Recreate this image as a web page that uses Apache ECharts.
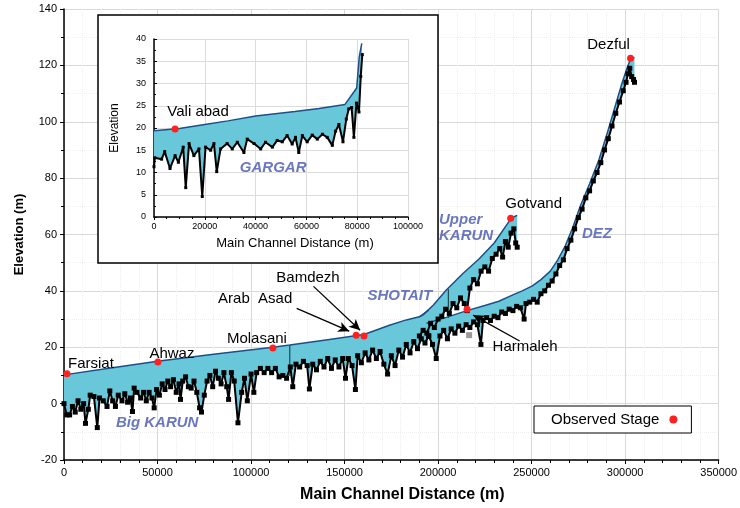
<!DOCTYPE html>
<html>
<head>
<meta charset="utf-8">
<title>Karun profile</title>
<script src="https://cdn.jsdelivr.net/npm/echarts@6/dist/echarts.min.js"></script>
<style>
  html, body { margin: 0; padding: 0; background: #fff; }
  #chart { width: 740px; height: 508px; }
</style>
</head>
<body>
<div id="chart"></div>
<script>
// water surface profiles [distance (m), elevation (m)]
const bigKarunSurface = [[0,10.2],[25000,12.6],[50000,15],[80000,17.5],[111700,20],[120700,20.8],[140000,22.6],[160400,24.5],[174000,27.8],[183000,29.7],[190000,30.8],[195000,33.2]];
const shotaitSurface = [[190000,30.8],[192000,31.5],[197500,35],[204400,40.3],[213000,46],[222000,51.4],[230000,57],[237700,64.4],[240300,66.2],[242300,66.8]];
const dezSurface = [[193800,28.5],[204400,30.6],[215000,32.9],[225000,34.8],[232500,36.3],[240000,38.6],[245000,40],[250400,41.8],[255000,44],[260000,47],[264000,51],[268000,56],[272000,62.5],[276000,70],[281000,78],[286000,86.5],[290000,95],[294000,104],[298000,113],[301000,119],[303000,122.5],[305000,122.8]];
const gargarSurface = [[0,19.4],[10000,19.9],[20000,20.8],[29100,21.6],[40000,22.7],[55500,23.7],[65000,24.4],[75200,25.3],[79800,29],[80800,36],[81800,39]];

// channel bed profiles
const bigKarunBed = [[0,0],[1500,-4],[3000,-4],[4500,-1],[6000,-3],[7500,1],[9000,-2],[10500,0],[11500,-7],[13000,-2],[14000,3],[16000,2.5],[17800,-8.5],[19000,2],[21000,1],[23000,-1],[24500,4.5],[26000,1],[27500,-1],[29000,3],[31000,1],[32500,3.5],[34000,0.5],[35500,2],[36600,-2.8],[37500,5.5],[39000,4],[41000,2],[42500,4],[44000,1],[45500,4],[47000,2],[48200,-1.5],[49500,5],[51000,3],[52500,7],[54000,5],[55500,8],[57000,6],[58500,8.5],[60000,4],[61500,7],[62300,1.5],[63500,8],[65000,9.5],[66500,6],[68000,5.5],[69500,8],[71000,4],[72500,-1.5],[73500,-3],[75000,3],[76500,8],[78000,10],[79500,6],[81000,11.5],[82500,9],[84000,7],[85500,11],[87000,6],[88000,1.5],[89500,11],[91000,8],[93000,-6.8],[95000,4],[96500,9],[98000,1],[100000,10.5],[101500,4],[103000,11],[105000,12.5],[107000,11],[109000,12.5],[111000,11],[113000,12.5],[115000,9.5],[117000,10],[119000,9],[121000,13],[122300,6],[124000,14],[126000,13],[128000,15],[130000,13.5],[131200,5.2],[133000,14],[135000,12],[137000,15],[139000,13],[141000,16],[143000,12.5],[145000,15.5],[147000,13],[149000,16],[150500,9],[152000,16],[154000,13.5],[155800,5],[157000,17],[159000,14.5],[161000,18],[163000,15.5],[165000,19],[167000,16],[169000,18.5],[171000,14],[173000,10.5],[175000,17],[177000,13.5],[179000,19],[181000,16.5],[183000,21],[185000,18],[187000,22],[189000,19.5],[191000,23],[193000,21.5],[195000,24]];
const shotaitBed = [[190000,24],[192000,26],[194000,25],[196000,28.5],[198000,27],[200000,30],[202000,31],[204000,33.5],[206000,32],[208000,35.5],[210000,34],[212000,37.5],[214000,35.5],[215500,33],[217000,41],[219000,44],[221000,42.5],[223000,47],[225000,48.5],[227000,47],[229000,51.5],[231000,53],[233000,55],[234500,52],[236000,57.5],[237500,55.5],[239000,60.5],[240500,62],[241500,57],[242300,55.5]];
const dezBed = [[195000,24],[197000,21],[199000,16],[201000,24],[203000,26],[205000,23],[207000,26.5],[209000,25],[211000,27.5],[213000,26],[215000,28],[217000,27],[219000,29],[221000,28],[222900,21],[224000,29.5],[226000,30.5],[228000,29.5],[230000,31],[232000,30.5],[234000,32.5],[236000,32],[238000,33.5],[240000,33],[242000,34.5],[244000,34],[246000,30],[247000,35.5],[249000,36],[251000,37],[253000,36],[255000,39],[257000,40],[259000,42],[261000,43.5],[263000,46],[265000,49],[267000,51],[269000,55],[271000,58],[273000,62],[275000,66],[277000,69],[279000,73],[281000,75.5],[283000,79],[285000,82],[287000,85.5],[289000,90],[291000,94],[293000,98.5],[295000,103],[297000,107],[299000,111],[300500,114],[301500,117],[302500,119],[303500,116],[304500,115],[305000,114]];
const gargarBed = [[0,11.3],[300,13.3],[3000,13],[4200,14.7],[6300,10.9],[8300,13.8],[9600,12.3],[11500,15.7],[12500,6.6],[13800,16.5],[15700,13.8],[17700,15.3],[19000,4.6],[20300,15.7],[22300,15],[23600,16.5],[24700,10.2],[26200,15.3],[28800,16.5],[30800,15.3],[32800,16.8],[35400,14.5],[36700,17.5],[39400,16.5],[42000,15.3],[43900,16.8],[46600,15.7],[48500,17.2],[50500,16.9],[52400,18.3],[54400,16.4],[55700,17.9],[57000,14.5],[58400,18.3],[60300,16.9],[62300,18.4],[64300,17.5],[66300,18.6],[68200,17.9],[70200,16.1],[71500,19.3],[72800,20.8],[74400,16.9],[75700,22],[76700,24.3],[77800,24.6],[78700,17.9],[79700,25.6],[80700,23.6],[81400,31.6],[82000,36.5]];

// junction cross sections
const junctionLines = [[[120700,9.8],[120700,20.8]], [[205500,30.4],[205500,40.6]]];

// observed stages
const stationNames = ['Farsiat','Ahwaz','Molasani','Arab  Asad','Bamdezh','Harmaleh','Gotvand','Dezful'];
const stationX = [1600, 50200, 111700, 156200, 160400, 215500, 238800, 302900];
const stationY = [10.6, 14.8, 19.7, 24.3, 24, 33.5, 65.8, 122.5];
const insetStationNames = ['Vali abad'];
const insetStationX = [8300];
const insetStationY = [19.8];
const grayPoint = [[216600, 24.3]];

// river reach names
const riverNames = ['Big KARUN','SHOTAIT','Upper\nKARUN','DEZ'];
const riverX = [49800, 179500, 200500, 284900];
const riverY = [-6.7, 38.4, 62.4, 60.3];
const insetRiverNames = ['GARGAR'];
const insetRiverX = [46900];
const insetRiverY = [11];

// arrows from labels to stations
const arrows = [
  [[124400,33.8],[152500,25.7]],
  [[133400,41.6],[158300,26]],
  [[243600,22.2],[218700,31.4]]
];

const mainXTicks = {min: 0, max: 350000, interval: 50000};
const mainYTicks = {min: -20, max: 140, interval: 20};
const insetXTicks = {min: 0, max: 100000, interval: 20000};
const insetYTicks = {min: 0, max: 40, interval: 5};

// label placement (px offsets from the dot)
const labelPos = {
  'Farsiat': [1, -10, 'left'], 'Ahwaz': [14, -8, 'center'], 'Molasani': [-16, -9, 'center'],
  'Arab  Asad': [-101, -36, 'center'], 'Bamdezh': [-56, -58, 'center'], 'Harmaleh': [58, 38, 'center'],
  'Gotvand': [23, -14, 'center'], 'Dezful': [-22, -13, 'center'], 'Vali abad': [23, -17, 'center']
};

const FILL = '#68c8da';
const SURF = '#1d4f86';
const RIVER = '#4455b0';
const plain = v => String(v); // no thousands separators

function reach(surface, bed, g, z) {
  const pts = surface.concat(bed.slice().reverse());
  return [
    { // filled water between bed and surface
      type: 'custom', xAxisIndex: g, yAxisIndex: g, z: z, silent: true, clip: true,
      data: [0],
      renderItem: function (params, api) {
        return { type: 'polygon', shape: { points: pts.map(p => api.coord(p)) }, style: { fill: FILL } };
      }
    },
    {
      type: 'line', xAxisIndex: g, yAxisIndex: g, z: z + 1, data: surface, symbol: 'none',
      lineStyle: { color: SURF, width: 1.5 }, silent: true
    },
    {
      type: 'line', xAxisIndex: g, yAxisIndex: g, z: z + 2, data: bed, showAllSymbol: true,
      symbol: 'rect', symbolSize: g === 0 ? 5 : 3,
      itemStyle: { color: '#000' }, lineStyle: { color: '#000', width: 2 }, silent: true
    }
  ];
}

function stationData(names, xs, ys) {
  return names.map((n, i) => ({
    name: n, value: [xs[i], ys[i]],
    label: { offset: [labelPos[n][0], labelPos[n][1]], align: labelPos[n][2] }
  }));
}

function riverData(names, xs, ys) {
  return names.map((n, i) => ({
    name: n, value: [xs[i], ys[i]],
    label: { align: n.indexOf('\n') > 0 ? 'left' : 'center' }
  }));
}

const stationLabel = {
  show: true, position: 'inside', formatter: '{b}', color: '#000', fontSize: 15,
  verticalAlign: 'middle'
};
const riverLabel = {
  show: true, position: 'inside', formatter: '{b}', color: RIVER, fontSize: 15,
  fontStyle: 'italic', fontWeight: 'bold', lineHeight: 16, verticalAlign: 'middle'
};

function axisOf(g, t, extra) {
  return Object.assign({
    gridIndex: g, type: 'value', min: t.min, max: t.max, interval: t.interval,
    nameLocation: 'middle',
    axisLine: { show: true, onZero: false, lineStyle: { color: '#000', width: 1.5 } },
    axisTick: { show: true, length: 4, lineStyle: { color: '#000' } },
    splitLine: { show: true, lineStyle: { color: '#d9d9d9' } },
    minorSplitLine: { show: true, lineStyle: { color: '#efefef', type: 'dotted' } }
  }, extra);
}

const series = []
  .concat(reach(bigKarunSurface, bigKarunBed, 0, 2))
  .concat(reach(shotaitSurface, shotaitBed, 0, 2))
  .concat(reach(dezSurface, dezBed, 0, 2))
  .concat(junctionLines.map(l => ({
    type: 'line', data: l, symbol: 'none', z: 3, silent: true,
    lineStyle: { color: '#1a4a50', width: 1.2 }
  })))
  .concat([
    {
      type: 'scatter', data: grayPoint, symbol: 'rect', symbolSize: 6, z: 5,
      itemStyle: { color: '#9a9a9a', opacity: 1 }, silent: true
    },
    {
      name: 'Observed Stage', type: 'scatter', z: 6, symbolSize: 7,
      itemStyle: { color: '#ff2020', opacity: 1 },
      data: stationData(stationNames, stationX, stationY),
      label: stationLabel,
      markLine: {
        silent: true, symbol: ['none', 'arrow'], symbolSize: [8, 11],
        lineStyle: { color: '#000', width: 1.3, type: 'solid' },
        label: { show: false },
        data: arrows.map(a => [{ coord: a[0] }, { coord: a[1] }])
      }
    },
    {
      type: 'scatter', z: 6, symbolSize: 0, silent: true,
      data: riverData(riverNames, riverX, riverY), label: riverLabel
    }
  ])
  // inset: Gargar branch
  .concat(reach(gargarSurface, gargarBed, 1, 5))
  .concat([
    {
      name: 'Observed Stage', type: 'scatter', xAxisIndex: 1, yAxisIndex: 1, z: 9, symbolSize: 7,
      itemStyle: { color: '#ff2020', opacity: 1 },
      data: stationData(insetStationNames, insetStationX, insetStationY),
      label: stationLabel
    },
    {
      type: 'scatter', xAxisIndex: 1, yAxisIndex: 1, z: 9, symbolSize: 0, silent: true,
      data: riverData(insetRiverNames, insetRiverX, insetRiverY), label: riverLabel
    }
  ]);

const chart = echarts.init(document.getElementById('chart'));
chart.setOption({
  animation: false,
  backgroundColor: '#fff',
  textStyle: { fontFamily: 'Arial, "Liberation Sans", sans-serif' },
  grid: [
    { left: 64, right: 16, top: 9, bottom: 45 },
    { left: 154, right: 332, top: 39, bottom: 291 }
  ],
  legend: {
    data: [{ name: 'Observed Stage', icon: 'circle' }],
    left: 534, top: 406, align: 'right',
    itemWidth: 18, itemHeight: 8,
    padding: [6, 14, 6, 17],
    borderColor: '#000', borderWidth: 1, backgroundColor: '#fff',
    textStyle: { color: '#000', fontSize: 15 },
    selectedMode: false
  },
  graphic: {
    elements: [{
      type: 'rect', z: 1, silent: true,
      shape: { x: 98, y: 15, width: 340, height: 248 },
      style: { fill: '#fff', stroke: '#000', lineWidth: 1.5 }
    }]
  },
  xAxis: [
    axisOf(0, mainXTicks, {
      name: 'Main Channel Distance (m)', nameGap: 27,
      nameTextStyle: { color: '#000', fontWeight: 'bold', fontSize: 16, padding: [0, 0, 0, 22] },
      minorTick: { show: true, splitNumber: 5, length: 3, lineStyle: { color: '#000' } },
      axisLabel: { color: '#000', fontSize: 11, margin: 7, showMaxLabel: true, formatter: plain }
    }),
    axisOf(1, insetXTicks, {
      z: 3,
      name: 'Main Channel Distance (m)', nameGap: 20,
      nameTextStyle: { color: '#000', fontSize: 13, padding: [0, 0, 0, 28] },
      axisTick: { show: true, length: 3, lineStyle: { color: '#000' } },
      minorTick: { show: true, splitNumber: 4, length: 2, lineStyle: { color: '#000' } },
      axisLabel: { color: '#000', fontSize: 9, margin: 5, showMaxLabel: true, formatter: plain },
      splitLine: { show: true, lineStyle: { color: '#dcdcdc' } },
      minorSplitLine: { show: false }
    })
  ],
  yAxis: [
    axisOf(0, mainYTicks, {
      name: 'Elevation (m)', nameGap: 38,
      nameTextStyle: { color: '#000', fontWeight: 'bold', fontSize: 13 },
      minorTick: { show: true, splitNumber: 2, length: 3, lineStyle: { color: '#000' } },
      axisLabel: { color: '#000', fontSize: 11, margin: 7, formatter: plain }
    }),
    axisOf(1, insetYTicks, {
      z: 3,
      name: 'Elevation', nameGap: 33,
      nameTextStyle: { color: '#000', fontSize: 12 },
      axisTick: { show: true, inside: true, length: 3, lineStyle: { color: '#000' } },
      minorTick: { show: true, splitNumber: 2, length: 2, lineStyle: { color: '#000' } },
      axisLabel: { color: '#000', fontSize: 9, margin: 8, formatter: plain },
      splitLine: { show: true, lineStyle: { color: '#dcdcdc' } },
      minorSplitLine: { show: false }
    })
  ],
  series: series
});
</script>
</body>
</html>
